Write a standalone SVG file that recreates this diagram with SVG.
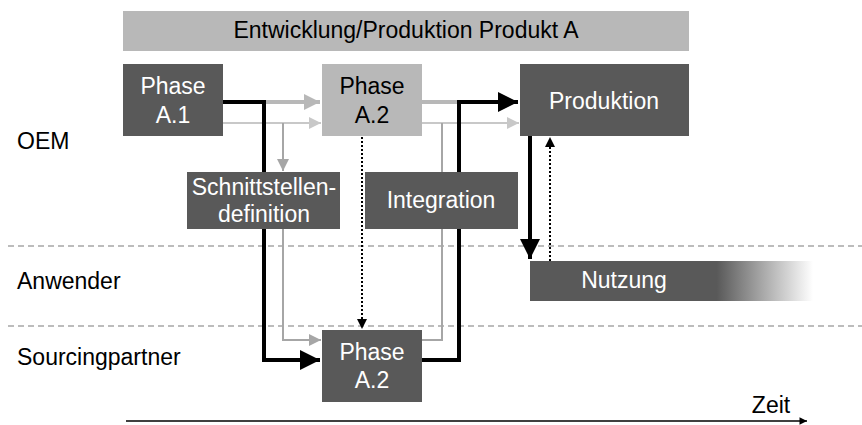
<svg xmlns="http://www.w3.org/2000/svg" width="862" height="425" viewBox="0 0 862 425">
  <style>
    text { font-family: "Liberation Sans", Arial, sans-serif; font-size: 23px; }
    .dark { fill: #595959; }
    .light { fill: #b8b8b8; }
    .wt { fill: #ffffff; text-anchor: middle; }
    .bt { fill: #000000; text-anchor: middle; }
    .lbl { fill: #000000; }
    .lane { stroke: #a6a6a6; stroke-width: 1.5; stroke-dasharray: 6 4; fill: none; }
    .blk { stroke: #000000; stroke-width: 4; fill: none; }
    .g1 { stroke: #b8b8b8; stroke-width: 4; fill: none; }
    .g2 { stroke: #c8c8c8; stroke-width: 2; fill: none; }
    .g3 { stroke: #a6a6a6; stroke-width: 2; fill: none; }
    .dot { stroke: #000000; stroke-width: 2; stroke-dasharray: 2 2; fill: none; }
  </style>
  <defs>
    <marker id="ahBlack" viewBox="0 0 10 10" refX="10" refY="5" markerWidth="5" markerHeight="5" markerUnits="strokeWidth" orient="auto">
      <path d="M0,0 L10,5 L0,10 z" fill="#000000"/>
    </marker>
    <marker id="ahThin" viewBox="0 0 10 10" refX="10" refY="5" markerWidth="6" markerHeight="5" markerUnits="strokeWidth" orient="auto">
      <path d="M0,0 L10,5 L0,10 z" fill="#000000"/>
    </marker>
    <marker id="ahG1" viewBox="0 0 10 10" refX="10" refY="5" markerWidth="4" markerHeight="4" markerUnits="strokeWidth" orient="auto">
      <path d="M0,0 L10,5 L0,10 z" fill="#b8b8b8"/>
    </marker>
    <marker id="ahG2" viewBox="0 0 10 10" refX="10" refY="5" markerWidth="6" markerHeight="6" markerUnits="strokeWidth" orient="auto">
      <path d="M0,0 L10,5 L0,10 z" fill="#c8c8c8"/>
    </marker>
    <marker id="ahG3" viewBox="0 0 10 10" refX="10" refY="5" markerWidth="6" markerHeight="6" markerUnits="strokeWidth" orient="auto">
      <path d="M0,0 L10,5 L0,10 z" fill="#a6a6a6"/>
    </marker>
    <linearGradient id="fade" x1="530" y1="0" x2="813" y2="0" gradientUnits="userSpaceOnUse">
      <stop offset="0" stop-color="#595959"/>
      <stop offset="0.66" stop-color="#595959"/>
      <stop offset="1" stop-color="#ffffff"/>
    </linearGradient>
  </defs>

  <!-- swimlane separators -->
  <line class="lane" x1="8" y1="246" x2="862" y2="246"/>
  <line class="lane" x1="8" y1="326" x2="862" y2="326"/>

  <!-- lane labels -->
  <text class="lbl" x="17" y="149">OEM</text>
  <text class="lbl" x="17" y="289">Anwender</text>
  <text class="lbl" x="17" y="365">Sourcingpartner</text>

  <!-- header -->
  <g id="header">
    <rect class="light" x="123" y="11" width="566" height="40"/>
    <text class="bt" x="406" y="38">Entwicklung/Produktion Produkt A</text>
  </g>

  <!-- connectors -->
  <g id="connectors">
    <!-- A.1 to A.2 (grey) -->
    <path class="g1" d="M264,102 L320,102" marker-end="url(#ahG1)"/>
    <path class="g2" d="M223,123 L321,123" marker-end="url(#ahG2)"/>
    <path class="g3" d="M283,123 L283,171" marker-end="url(#ahG3)"/>
    <!-- interface definition to sourcing A.2 -->
    <path class="g3" d="M283,229 L283,340 L321,340" marker-end="url(#ahG3)"/>
    <!-- A.1 to sourcing A.2 (black) -->
    <path class="blk" d="M223,102 L264,102 L264,360 L320,360" marker-end="url(#ahBlack)"/>
    <!-- OEM A.2 to sourcing A.2 (dotted) -->
    <path class="dot" d="M362,137 L362,329" marker-end="url(#ahThin)"/>
    <!-- OEM A.2 towards production -->
    <path class="g1" d="M422,102 L459,102"/>
    <path class="g2" d="M422,123 L519,123" marker-end="url(#ahG2)"/>
    <!-- sourcing A.2 towards production -->
    <path class="g3" d="M422,340 L442,340 L442,123"/>
    <path class="blk" d="M422,360 L459,360 L459,102 L518,102" marker-end="url(#ahBlack)"/>
    <!-- production to usage and back -->
    <path class="blk" d="M530,136 L530,259" marker-end="url(#ahBlack)"/>
    <path class="dot" d="M550,261 L550,137" marker-end="url(#ahThin)"/>
    <!-- time axis -->
    <path stroke="#000000" stroke-width="1.5" fill="none" d="M126,421 L807,421" marker-end="url(#ahThin)"/>
  </g>

  <g id="phaseA1">
    <rect class="dark" x="123" y="64" width="100" height="72"/>
    <text class="wt" x="173" y="94">Phase</text>
    <text class="wt" x="173" y="123">A.1</text>
  </g>

  <g id="phaseA2-oem">
    <rect class="light" x="322" y="64" width="100" height="72"/>
    <text class="bt" x="372" y="94">Phase</text>
    <text class="bt" x="372" y="123">A.2</text>
  </g>

  <g id="produktion">
    <rect class="dark" x="520" y="64" width="169" height="72"/>
    <text class="wt" x="604" y="109">Produktion</text>
  </g>

  <g id="schnittstellen">
    <rect class="dark" x="187" y="172" width="153" height="57"/>
    <text class="wt" x="264" y="195">Schnittstellen-</text>
    <text class="wt" x="264" y="222">definition</text>
  </g>

  <g id="integration">
    <rect class="dark" x="365" y="172" width="153" height="57"/>
    <text class="wt" x="441" y="208">Integration</text>
  </g>

  <g id="nutzung">
    <rect fill="url(#fade)" x="530" y="261" width="283" height="40"/>
    <text class="wt" x="624" y="288">Nutzung</text>
  </g>

  <g id="phaseA2-sourcing">
    <rect class="dark" x="322" y="330" width="100" height="72"/>
    <text class="wt" x="372" y="360">Phase</text>
    <text class="wt" x="372" y="388">A.2</text>
  </g>

  <text class="bt" x="771" y="413">Zeit</text>
</svg>
